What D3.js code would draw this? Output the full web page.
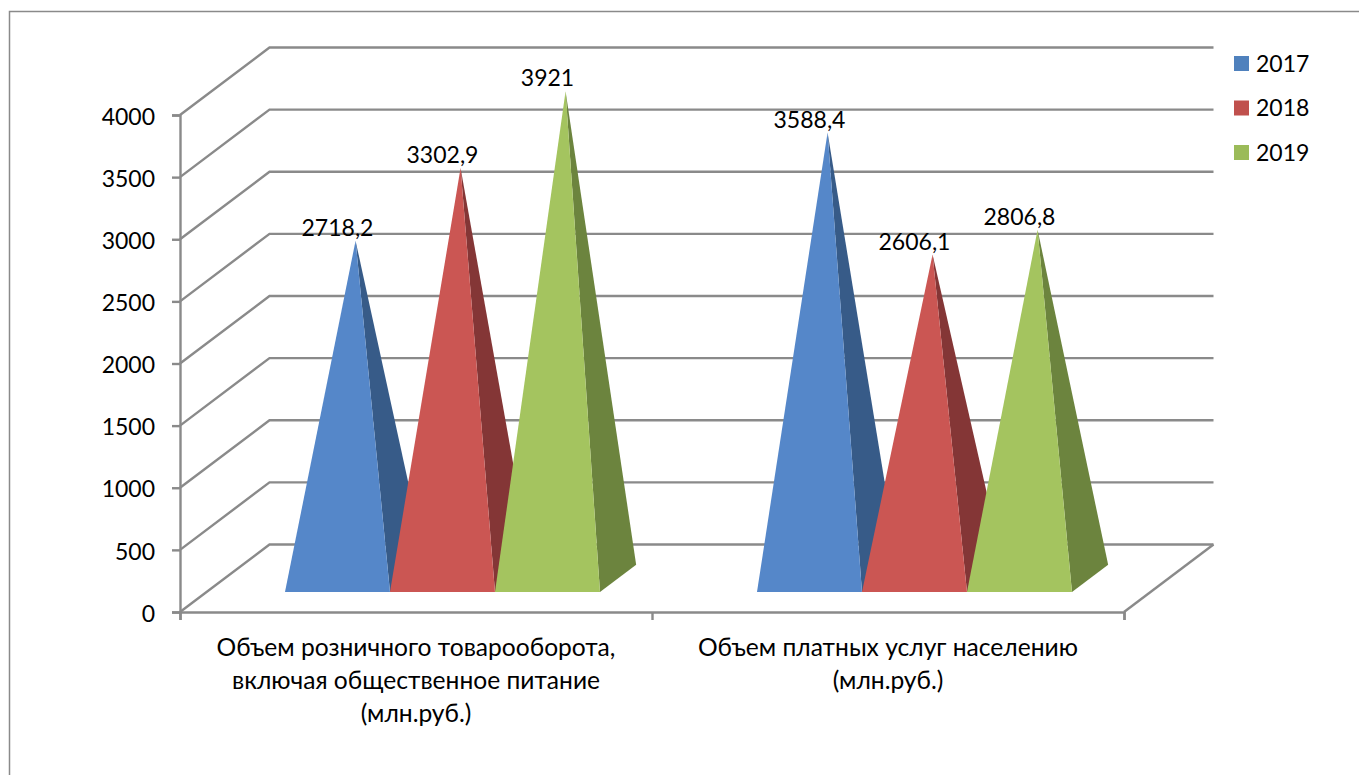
<!DOCTYPE html>
<html>
<head>
<meta charset="utf-8">
<script src="https://cdn.jsdelivr.net/npm/d3@7"></script>
<style>
  html, body { margin: 0; padding: 0; background: #fff; overflow: hidden; }
  text { font-family: Lato, "Open Sans", sans-serif; fill: #000; }
</style>
</head>
<body>
<div id="chart"></div>
<script>
const categories = [
    ["Объем розничного товарооборота,", "включая общественное питание", "(млн.руб.)"],
    ["Объем платных услуг населению", "(млн.руб.)"]
];
const years = ["2017", "2018", "2019"];
const values2017 = [2718.2, 3588.4];
const values2018 = [3302.9, 2606.1];
const values2019 = [3921, 2806.8];
const yTicks = [0, 500, 1000, 1500, 2000, 2500, 3000, 3500, 4000];

const seriesValues = [values2017, values2018, values2019];
const frontColors = ["#5587c9", "#cb5653", "#a4c45f"];
const sideColors = ["#375b88", "#843636", "#6c843e"];
const legendColors = ["#4f81bd", "#c0504d", "#9bbb59"];
const gridColor = "#8a8a8a";
const fontSize = 23;
const categoryFontSize = 24.6;

const svg = d3.select("#chart")
    .append("svg")
    .attr("width", 1359)
    .attr("height", 775);

// outer frame, only top and left are in the picture
svg.append("path")
    .attr("d", "M9.5,775V11.5H1359")
    .attr("fill", "none")
    .attr("stroke", gridColor)
    .attr("stroke-width", 1.5);

const x = d3.scaleBand()
    .domain(d3.range(categories.length))
    .range([180, 1124]);

const y = d3.scaleLinear()
    .domain([0, 4000])
    .range([612, 115]);

const inner = d3.scaleBand()
    .domain(years)
    .range([-157.5, 157.5]);

// projection of the depth axis, 0 = front of floor, 1 = back wall
const depthX = 89.5;
const depthY = -67.5;
const barFront = 0.296;
const barBack = 0.7;

const walls = svg.append("g")
    .attr("fill", "none")
    .attr("stroke", gridColor)
    .attr("stroke-width", 2.4);

yTicks.forEach(t => {
    walls.append("path")
        .attr("d", `M${x.range()[0]},${y(t)}l${depthX},${depthY}H${x.range()[1] + depthX}`);
});

// right edge of the floor
walls.append("line")
    .attr("x1", x.range()[1])
    .attr("y1", y(0))
    .attr("x2", x.range()[1] + depthX)
    .attr("y2", y(0) + depthY);

const yAxis = svg.append("g")
    .attr("transform", `translate(${x.range()[0]},0)`)
    .call(d3.axisLeft(y).tickValues(yTicks).tickFormat(d3.format("d")).tickSizeOuter(0).tickSize(8).tickPadding(17));

const xAxis = svg.append("g")
    .attr("transform", `translate(0,${y(0)})`)
    .call(d3.axisBottom(d3.scalePoint().domain(d3.range(categories.length + 1)).range(x.range()))
        .tickFormat("").tickSizeOuter(0).tickSize(8));

[yAxis, xAxis].forEach(a => {
    a.selectAll(".domain, line").attr("stroke", gridColor).attr("stroke-width", 2.4);
});
yAxis.selectAll("text")
    .attr("font-size", fontSize)
    .attr("font-family", null)
    .attr("dy", "0.4em");

// pyramids, left to right so that each front covers the previous side face
const bars = svg.append("g");
categories.forEach((c, i) => {
    seriesValues.forEach((series, s) => {
        const left = x(i) + x.bandwidth() / 2 + inner(years[s]) + barFront * depthX;
        const w = inner.bandwidth();
        const baseY = y(0) + barFront * depthY;
        const dx = (barBack - barFront) * depthX;
        const dy = (barBack - barFront) * depthY;
        const apexX = left + w / 2 + dx / 2;
        const apexY = y(series[i]) + ((barFront + barBack) / 2) * depthY;

        bars.append("path")
            .attr("d", d3.line()([[left + w, baseY], [left + w + dx, baseY + dy], [apexX, apexY]]) + "Z")
            .attr("fill", sideColors[s]);
        bars.append("path")
            .attr("d", d3.line()([[left, baseY], [left + w, baseY], [apexX, apexY]]) + "Z")
            .attr("fill", frontColors[s]);
    });
});

// data labels
const labels = svg.append("g");
categories.forEach((c, i) => {
    seriesValues.forEach((series, s) => {
        const left = x(i) + x.bandwidth() / 2 + inner(years[s]) + barFront * depthX;
        const apexY = y(series[i]) + ((barFront + barBack) / 2) * depthY;
        labels.append("text")
            .attr("x", left + inner.bandwidth() / 2)
            .attr("y", apexY - 13)
            .attr("dy", "0.35em")
            .attr("text-anchor", "middle")
            .attr("font-size", fontSize)
            .text(String(series[i]).replace(".", ","));
    });
});

// category labels
categories.forEach((lines, i) => {
    const t = svg.append("text")
        .attr("text-anchor", "middle")
        .attr("font-size", categoryFontSize);
    lines.forEach((line, k) => {
        t.append("tspan")
            .attr("x", x(i) + x.bandwidth() / 2)
            .attr("y", 647 + k * 33)
            .attr("dy", "0.35em")
            .text(line);
    });
});

// legend
const legend = svg.append("g");
const legendY = d3.scalePoint().domain(years).range([63.5, 152.5]);
years.forEach((yr, s) => {
    legend.append("rect")
        .attr("x", 1234)
        .attr("y", legendY(yr) - 7.5)
        .attr("width", 15)
        .attr("height", 15)
        .attr("fill", legendColors[s]);
    legend.append("text")
        .attr("x", 1256)
        .attr("y", legendY(yr))
        .attr("dy", "0.35em")
        .attr("font-size", fontSize)
        .text(yr);
});
</script>
</body>
</html>
